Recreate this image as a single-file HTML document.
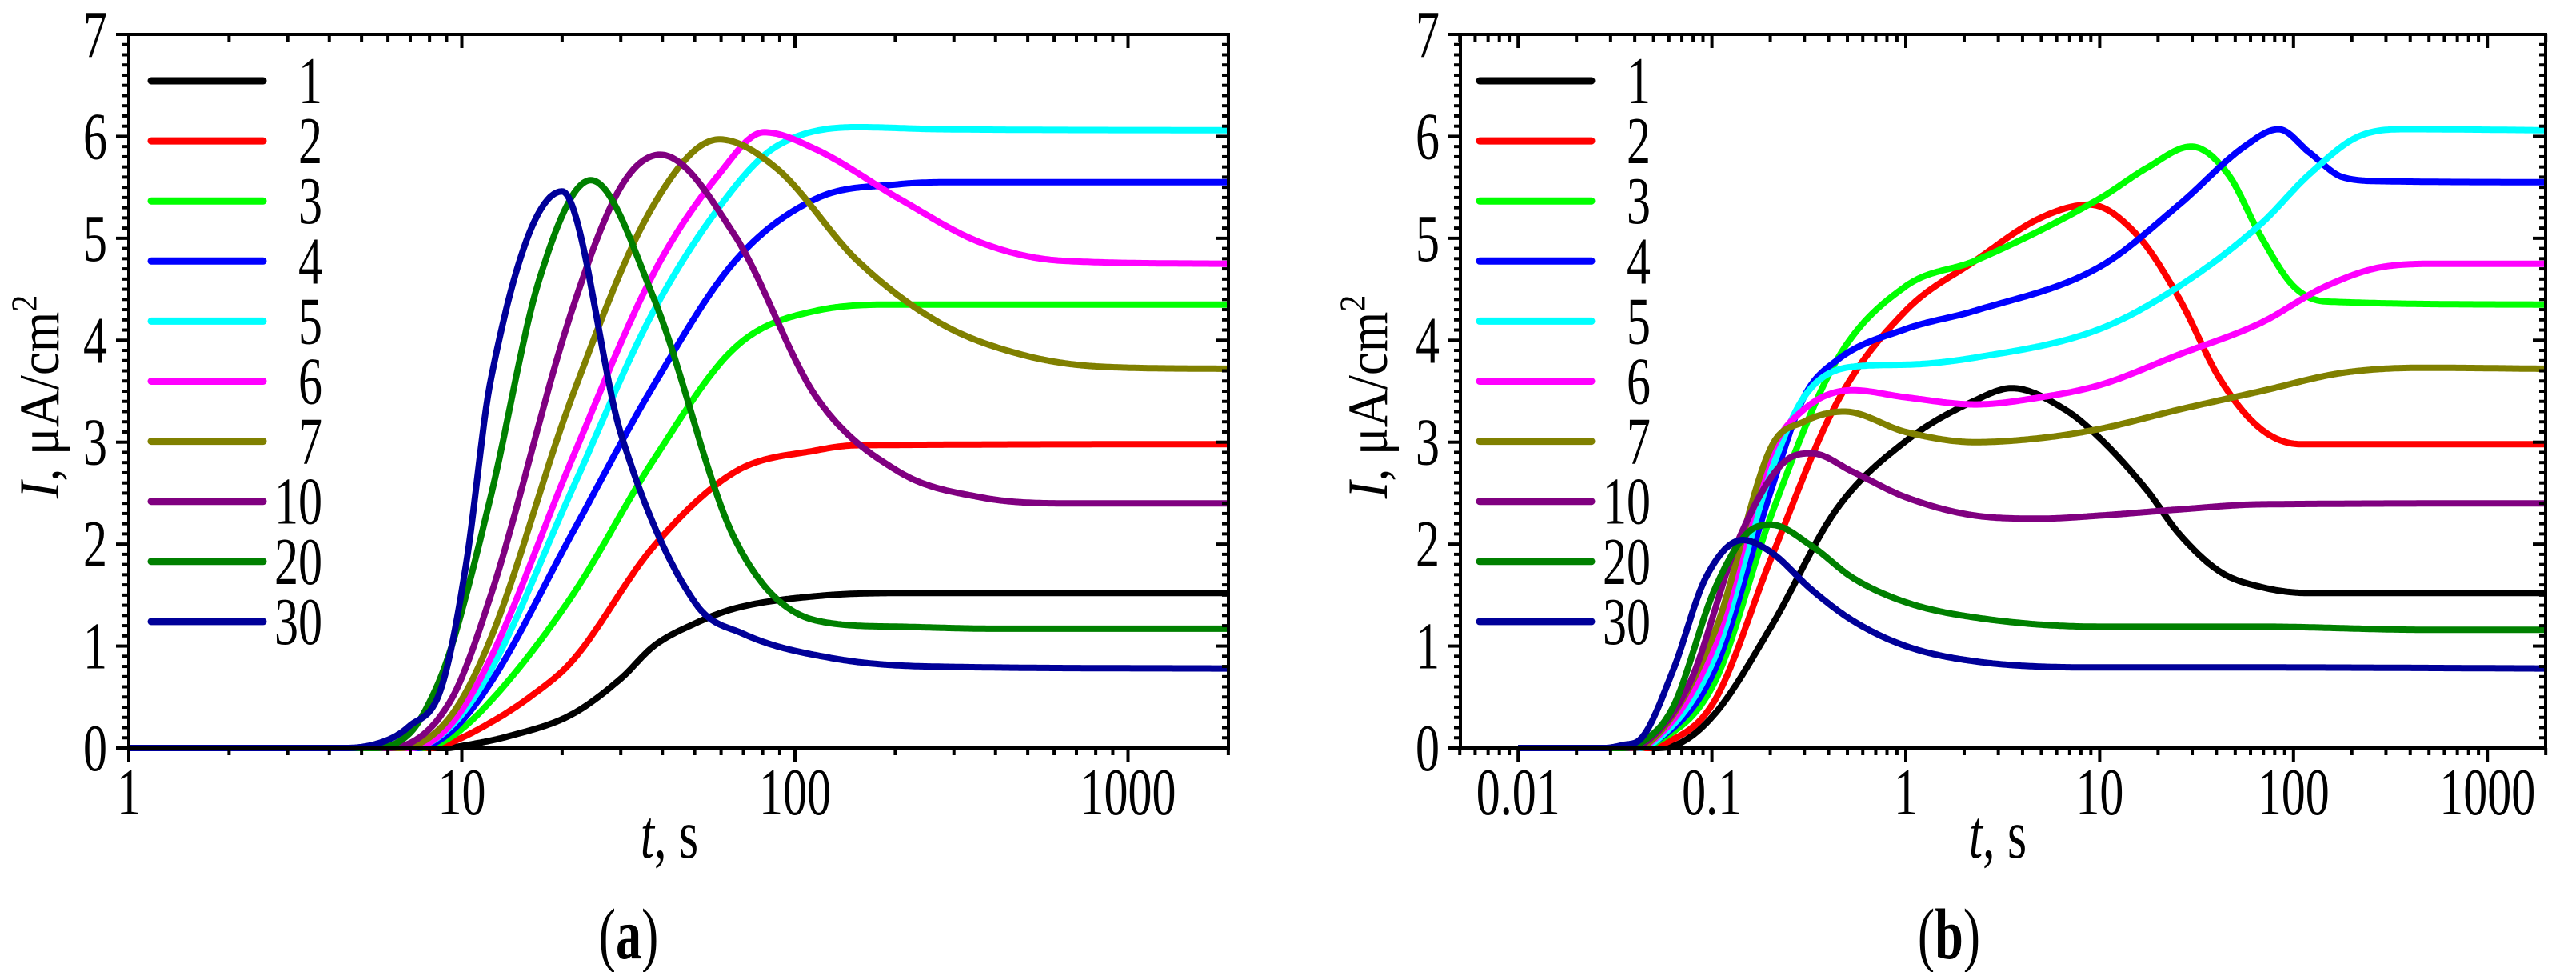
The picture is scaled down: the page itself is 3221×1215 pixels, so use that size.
<!DOCTYPE html>
<html><head><meta charset="utf-8">
<style>
html,body{margin:0;padding:0;background:#fff;}
svg{display:block;}
text{font-family:"Liberation Serif",serif;fill:#000;}
</style></head>
<body>
<svg id="fig" width="3221" height="1215" viewBox="0 0 3221 1215" xmlns="http://www.w3.org/2000/svg">
<g id="pa"></g>
<g id="pb"></g>
</svg>
<script>
const seriesLabels = ["1","2","3","4","5","6","7","10","20","30"];
const seriesColors = ["#000000","#ff0000","#00ff00","#0000ff","#00ffff","#ff00ff","#808000","#800080","#008000","#000099"];
const yTicks = [0,1,2,3,4,5,6,7];
const xTicksA = [1,10,100,1000];
const xTickLabelsA = ["1","10","100","1000"];
const xTicksB = [0.01,0.1,1,10,100,1000];
const xTickLabelsB = ["0.01","0.1","1","10","100","1000"];

// Panel (a) data
const a_t1 = [1,9,10,14,21.4,30,37.7,50,66.2,116,205,2000];
const a_I1 = [0,0,0.02,0.12,0.33,0.68,1.0,1.22,1.37,1.49,1.52,1.52];
const a_t2 = [1,8,9.2,12.2,16,21.4,37.7,66.2,116,154,2000];
const a_I2 = [0,0,0.05,0.25,0.5,0.85,1.98,2.71,2.92,2.97,2.98];
const a_t3 = [1,7.5,9.2,12.2,21.4,37.7,66.2,116,205,2000];
const a_I3 = [0,0,0.1,0.46,1.49,2.83,3.93,4.29,4.35,4.35];
const a_t4 = [1,7.3,9.2,12.2,21.4,37.7,66.2,116,205,300,2000];
const a_I4 = [0,0,0.15,0.64,2.1,3.56,4.78,5.39,5.53,5.55,5.55];
const a_t5 = [1,7,9.2,12.2,21.4,37.7,66.2,87.8,154,272,2000];
const a_I5 = [0,0,0.2,0.76,2.53,4.29,5.51,5.9,6.09,6.07,6.06];
const a_t6 = [1,7,9.2,12.2,21.4,37.7,59.2,80.7,116,205,360,633,2000];
const a_I6 = [0,0,0.22,0.88,2.83,4.66,5.63,6.04,5.87,5.39,4.96,4.78,4.75];
const a_t7 = [1,6.5,9.2,12.2,21.4,37.7,59.2,87.8,154,272,478,839,2000];
const a_I7 = [0,0,0.3,1.07,3.44,5.33,5.97,5.69,4.78,4.17,3.86,3.74,3.72];
const a_t10 = [1,6,9.2,12.2,21.4,30.1,39.4,66.2,116,205,360,633,2000];
const a_I10 = [0,0,0.45,1.49,4.29,5.51,5.82,5.02,3.44,2.71,2.46,2.40,2.40];
const a_t20 = [1,5.5,7,8,9.2,12.2,17.1,24.4,37.7,66.2,116,205,400,2000];
const a_I20 = [0,0,0.15,0.45,0.94,2.46,4.6,5.57,4.41,2.04,1.25,1.19,1.17,1.17];
const a_t30 = [1,4.5,6,6.93,8.7,10.3,12.2,20,30.1,50,70,130,250,2000];
const a_I30 = [0,0,0.08,0.21,0.6,1.8,3.6,5.46,3.07,1.43,1.12,0.88,0.8,0.78];

// Panel (b) data
const b_t1 = [0.01,0.05,0.063,0.103,0.202,0.439,1,2.28,3.52,6.62,10,17.5,25.7,41.7,67.8,121,2000];
const b_I1 = [0,0,0.02,0.33,1.19,2.34,3.01,3.41,3.53,3.32,3.04,2.53,2.1,1.73,1.58,1.52,1.52];
const b_t2 = [0.01,0.045,0.055,0.103,0.202,0.439,1,2.28,4.95,8.85,15.8,25.7,41.7,67.8,110,2000];
const b_I2 = [0,0,0.03,0.46,1.86,3.38,4.29,4.78,5.2,5.33,5.02,4.41,3.62,3.13,2.98,2.98];
const b_t3 = [0.01,0.04,0.05,0.103,0.202,0.439,1,2.28,10,17.5,29.7,45.9,67.8,100,147,2000];
const b_I3 = [0,0,0.04,0.64,2.28,3.8,4.53,4.78,5.39,5.69,5.9,5.63,5.02,4.53,4.38,4.35];
const b_t4 = [0.01,0.04,0.05,0.103,0.202,0.298,0.439,1,2.28,10,25.7,55.8,83.8,121,179,290,2000];
const b_I4 = [0,0,0.05,0.76,2.53,3.44,3.8,4.11,4.29,4.72,5.33,5.9,6.07,5.84,5.6,5.56,5.55];
const b_t5 = [0.01,0.04,0.05,0.103,0.202,0.298,0.532,1,2.28,10,25.7,67.8,121,217,388,2000];
const b_I5 = [0,0,0.05,0.88,2.71,3.44,3.74,3.76,3.83,4.11,4.53,5.14,5.63,6.0,6.07,6.06];
const b_t6 = [0.01,0.038,0.048,0.103,0.202,0.298,0.532,1,2.28,4.95,10,25.7,67.8,147,290,571,2000];
const b_I6 = [0,0,0.05,1.0,2.89,3.32,3.51,3.44,3.37,3.44,3.56,3.86,4.17,4.53,4.72,4.75,4.75];
const b_t7 = [0.01,0.037,0.047,0.103,0.202,0.298,0.483,1,2.28,4.95,10,25.7,67.8,179,471,2000];
const b_I7 = [0,0,0.05,1.13,2.95,3.2,3.3,3.1,3.0,3.04,3.13,3.32,3.5,3.68,3.73,3.72];
const b_t10 = [0.01,0.035,0.045,0.077,0.137,0.245,0.328,0.532,1,2.28,4.95,10,25.7,67.8,2000];
const b_I10 = [0,0,0.05,0.64,2.04,2.83,2.89,2.71,2.46,2.28,2.25,2.28,2.34,2.39,2.40];
const b_t20 = [0.01,0.033,0.043,0.063,0.103,0.151,0.202,0.328,0.532,1,2.28,10,67.8,471,2000];
const b_I20 = [0,0,0.05,0.4,1.55,2.1,2.19,1.98,1.67,1.43,1.28,1.19,1.19,1.16,1.16];
const b_t30 = [0.01,0.028,0.035,0.043,0.063,0.093,0.144,0.202,0.328,0.532,1,2.28,10,67.8,2000];
const b_I30 = [0,0,0.03,0.09,0.76,1.67,2.04,1.92,1.55,1.25,1.0,0.85,0.79,0.79,0.78];

const seriesA = [[a_t1,a_I1],[a_t2,a_I2],[a_t3,a_I3],[a_t4,a_I4],[a_t5,a_I5],[a_t6,a_I6],[a_t7,a_I7],[a_t10,a_I10],[a_t20,a_I20],[a_t30,a_I30]];
const seriesB = [[b_t1,b_I1],[b_t2,b_I2],[b_t3,b_I3],[b_t4,b_I4],[b_t5,b_I5],[b_t6,b_I6],[b_t7,b_I7],[b_t10,b_I10],[b_t20,b_I20],[b_t30,b_I30]];

const NS = "http://www.w3.org/2000/svg";
const SY = 1.4;
function mk(parent, tag, attrs){
  const e = document.createElementNS(NS, tag);
  for (const k in attrs) e.setAttribute(k, attrs[k]);
  parent.appendChild(e);
  return e;
}
function txt(parent, x, y, size, anchor){
  return mk(parent,'text',{x:0,y:0,'font-size':size,'text-anchor':anchor,transform:'translate('+x+','+y+') scale(1,'+SY+')'});
}
function monotone(xs, ys){
  const n = xs.length, d = [], m = new Array(n);
  for (let i=0;i<n-1;i++) d.push((ys[i+1]-ys[i])/(xs[i+1]-xs[i]));
  m[0]=d[0]; m[n-1]=d[n-2];
  for (let i=1;i<n-1;i++){ m[i] = (d[i-1]*d[i]<=0)?0:(d[i-1]+d[i])/2; }
  for (let i=0;i<n-1;i++){
    if (d[i]===0){m[i]=0;m[i+1]=0;continue;}
    const a=m[i]/d[i], b=m[i+1]/d[i], s=a*a+b*b;
    if (s>9){const t=3/Math.sqrt(s); m[i]=t*a*d[i]; m[i+1]=t*b*d[i];}
  }
  return function(x){
    let i=0; while(i<n-2 && x>xs[i+1]) i++;
    const h=xs[i+1]-xs[i], t=(x-xs[i])/h, t2=t*t, t3=t2*t;
    return (2*t3-3*t2+1)*ys[i]+(t3-2*t2+t)*h*m[i]+(-2*t3+3*t2)*ys[i+1]+(t3-t2)*h*m[i+1];
  };
}

function panel(g, cfg){
  const L=cfg.left, R=cfg.right, T=43, B=935;
  const X = t => cfg.x1 + (Math.log10(t))*cfg.dec;
  const Y = v => B - v*(B-T)/7;
  const lmin = Math.log10(cfg.tmin), lmax = Math.log10(cfg.tmax);
  const cg = mk(g,'g',{});
  
  
  cfg.series.forEach((s,k)=>{
    const lx = s[0].map(Math.log10), f = monotone(lx, s[1]);
    let pts=[];
    const a=lx[0], b=lx[lx.length-1];
    for (let i=0;i<=600;i++){ const l=a+(b-a)*i/600; pts.push(X(Math.pow(10,l)).toFixed(1)+','+Y(Math.max(0,f(l))).toFixed(1)); }
    const p = mk(cg,'polyline',{points:pts.join(' '),fill:'none',stroke:seriesColors[k],'stroke-width':8,'stroke-linejoin':'round'});
    
    
  });
  const fr = mk(g,'rect',{x:L,y:T,width:R-L,height:B-T,fill:'none',stroke:'#000','stroke-width':4});
  
  
  const tk = mk(g,'g',{stroke:'#000','stroke-width':4});
  
  
  for (let i=0;i<=70;i++){
    const y=Y(i/10), major=(i%10===0), len=major?16:8;
    mk(tk,'line',{x1:L-len,y1:y,x2:L,y2:y});
    mk(tk,'line',{x1:R,y1:y,x2:R-len,y2:y});
  }
  for (let e=Math.floor(lmin); e<=Math.ceil(lmax); e++){
    for (let m=1;m<=9;m++){
      const t=m*Math.pow(10,e), l=Math.log10(t);
      if (l<lmin-1e-9||l>lmax+1e-9) continue;
      const x=X(t), len=(m===1)?17:9;
      mk(tk,'line',{x1:x,y1:B,x2:x,y2:B+len});
      mk(tk,'line',{x1:x,y1:T,x2:x,y2:T+len});
    }
  }
  yTicks.forEach(v=>{
    const t = txt(g, cfg.ylabX, Y(v)+28, 60, 'end');
    t.textContent=String(v);
    
    
  });
  cfg.xt.forEach((v,i)=>{
    const t = txt(g, X(v), 1018, 60, 'middle');
    t.textContent=cfg.xl[i];
    
    
  });
  const xt = txt(g, cfg.xtitleX, 1072, 62, 'middle');
  xt.innerHTML='<tspan font-style="italic">t</tspan>, s';
  
  
  const yt = mk(g,'text',{x:0,y:0,'font-size':62,'text-anchor':'middle',transform:'translate('+(cfg.ytitleX+22)+',496) rotate(-90) scale(1.05,1.15)'});
  yt.innerHTML='<tspan font-style="italic">I</tspan>, μA/cm<tspan font-size="40" dy="-24">2</tspan>';
  
  
  const pl = txt(g, cfg.capX, 1198, 64, 'middle');
  pl.innerHTML='(<tspan font-weight="bold">'+cfg.cap+'</tspan>)';
  
  
  const lg = mk(g,'g',{});
  
  
  seriesLabels.forEach((lab,k)=>{
    const y = 101 + k*75.1;
    const e = mk(lg,'g',{});
    
    
    mk(e,'line',{x1:cfg.legX,y1:y,x2:cfg.legX+140,y2:y,stroke:seriesColors[k],'stroke-width':9,'stroke-linecap':'round'});
    const t = txt(e, cfg.legX+214, y+28, 60, 'end');
    t.textContent=lab;
  });
}

panel(document.getElementById('pa'), {left:161,right:1536,x1:161,dec:416.5,tmin:1,tmax:2000,series:seriesA,
  xt:xTicksA,xl:xTickLabelsA,ylabX:134,xtitleX:837,ytitleX:51,capX:786,cap:'a',legX:189});
panel(document.getElementById('pb'), {left:1826,right:3183,x1:2383,dec:242.4,tmin:0.005,tmax:2000,series:seriesB,
  xt:xTicksB,xl:xTickLabelsB,ylabX:1800,xtitleX:2498,ytitleX:1712,capX:2437,cap:'b',legX:1850});
</script>
</body></html>
